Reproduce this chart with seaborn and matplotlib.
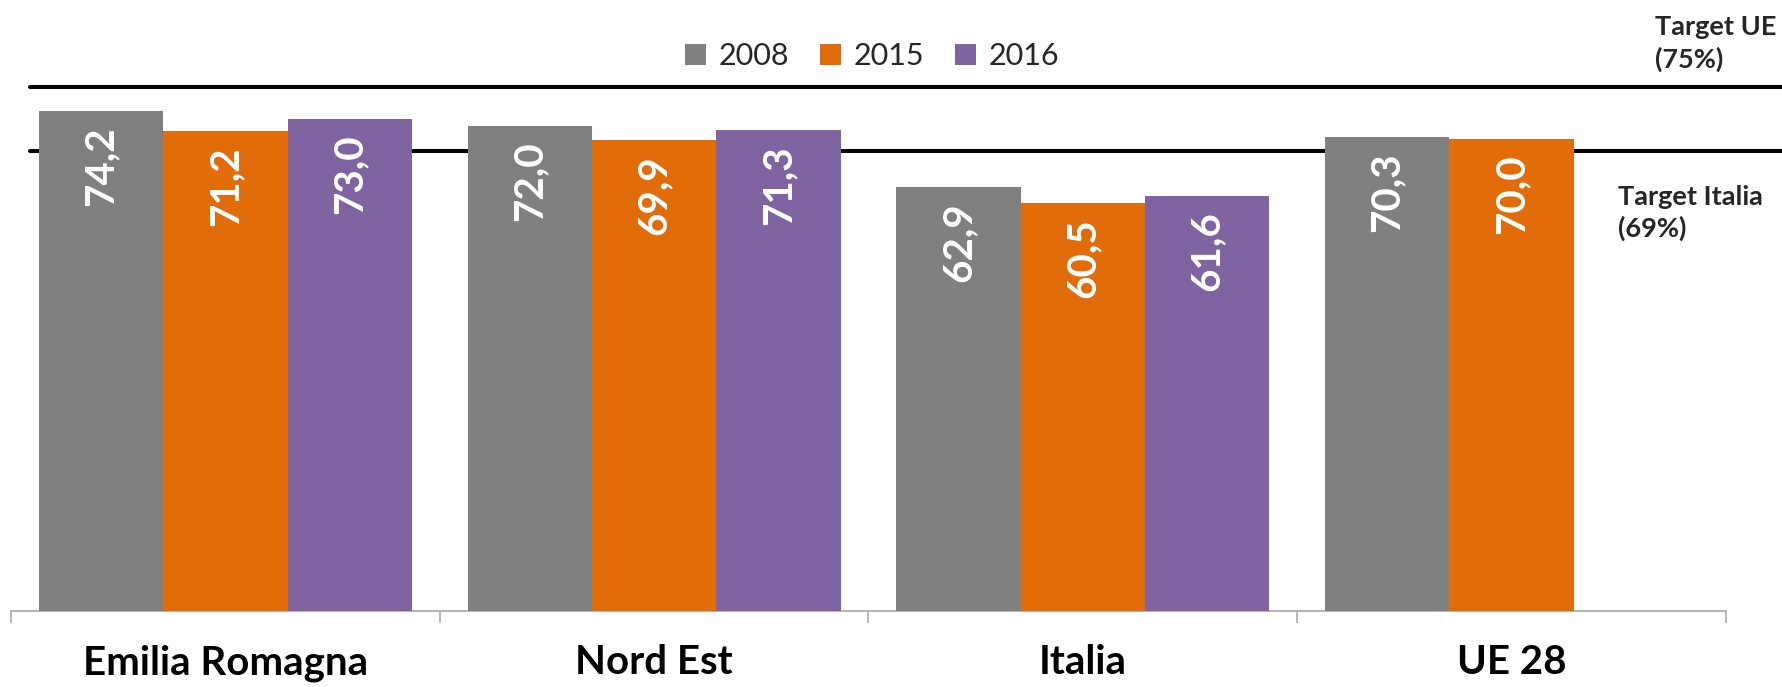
import matplotlib
matplotlib.use("Agg")
import matplotlib.pyplot as plt
import seaborn as sns
import pandas as pd
import numpy as np
from matplotlib.patches import Patch

# ---- data ----
categories = ["Emilia Romagna", "Nord Est", "Italia", "UE 28"]
years = ["2008", "2015", "2016"]
values_2008 = [74.2, 72.0, 62.9, 70.3]
values_2015 = [71.2, 69.9, 60.5, 70.0]
values_2016 = [73.0, 71.3, 61.6, None]
colors = ["#808080", "#E36C0A", "#8064A2"]
target_labels = ["Target UE\n(75%)", "Target Italia\n(69%)"]
target_levels = [77.8, 68.3]   # where the target lines are drawn in the picture

rows = []
for yr, vals in zip(years, [values_2008, values_2015, values_2016]):
    for c, v in zip(categories, vals):
        if v is not None:
            rows.append({"Area": c, "Anno": yr, "Valore": v})
df = pd.DataFrame(rows)

sns.set_theme(style="white")
plt.rcParams["font.family"] = ["Lato", "DejaVu Sans"]

W, H = 1783, 687
fig = plt.figure(figsize=(W / 100, H / 100), dpi=100)
ymax = 80
px_per_unit = 6.74
base_px = 611
top_px = base_px - ymax * px_per_unit
ax = fig.add_axes([11 / W, (H - base_px) / H, 1715 / W, (base_px - top_px) / H])

sns.barplot(data=df, x="Area", y="Valore", hue="Anno", order=categories,
            hue_order=years, palette=colors, width=0.87, saturation=1,
            linewidth=0, errorbar=None, legend=False, ax=ax, zorder=3)

ax.set_xlim(-0.5, 3.5)
ax.set_ylim(0, ymax)
ax.set_yticks([])
ax.set_xlabel("")
ax.set_ylabel("")
for s in ["left", "top", "right"]:
    ax.spines[s].set_visible(False)
ax.spines["bottom"].set_color("#A6A6A6")
ax.spines["bottom"].set_linewidth(1.2)

ax.set_xticks(range(len(categories)))
ax.set_xticklabels(categories, fontsize=29, fontweight="bold", color="black")
ax.set_xticks(np.arange(-0.5, len(categories), 1.0), minor=True)
ax.tick_params(axis="x", which="major", length=0, pad=24)
ax.tick_params(axis="x", which="minor", bottom=True, length=8.6, width=1.1,
               color="#A6A6A6", direction="out")

# bar value labels
for cont in ax.containers:
    labs = [f"{v:.1f}".replace(".", ",") for v in cont.datavalues]
    texts = ax.bar_label(cont, labels=labs, padding=-11, rotation=90,
                         color="white", fontsize=29, fontweight="bold")
    for t in texts:
        t.set_va("top")

# target lines
x0 = (30 - 11) / 1715
x1 = (W - 11) / 1715
for lvl in target_levels:
    ax.axhline(lvl, xmin=x0, xmax=x1, color="black", lw=2.9,
               clip_on=False, zorder=1)

fig.text(1655 / W, 1 - 43.5 / H, target_labels[0], ha="left", va="center",
         fontsize=19.5, fontweight="bold", linespacing=1.35)
fig.text(1618 / W, 1 - 213 / H, target_labels[1], ha="left", va="center",
         fontsize=19.5, fontweight="bold", linespacing=1.35)

handles = [Patch(facecolor=c, edgecolor="none", label=y) for c, y in zip(colors, years)]
fig.legend(handles=handles, loc="center", bbox_to_anchor=(872 / W, 1 - 56 / H),
           ncol=3, frameon=False, fontsize=22, handlelength=0.7, handleheight=0.7,
           handletextpad=0.4, columnspacing=1.0, borderpad=0, borderaxespad=0)

fig.savefig("out.png", dpi=100)
